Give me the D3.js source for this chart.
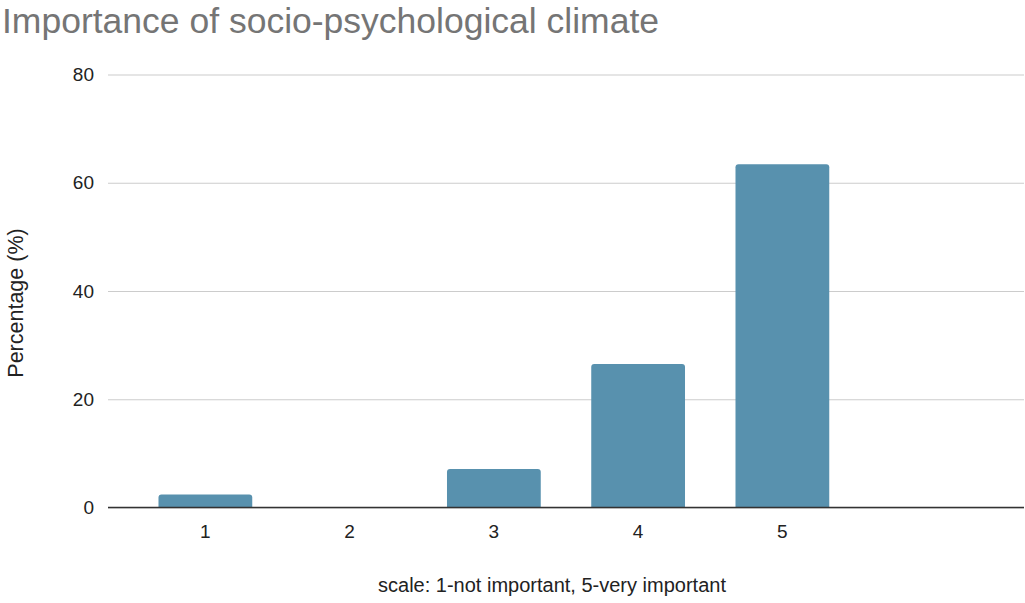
<!DOCTYPE html>
<html>
<head>
<meta charset="utf-8">
<script src="https://cdn.jsdelivr.net/npm/d3@7"></script>
<style>
body { margin:0; background:#fff; }
text { font-family: 'Liberation Sans', Arial, sans-serif; }
</style>
</head>
<body>
<svg id="chart" width="1025" height="603"></svg>
<script>
// data
var categories = ['1', '2', '3', '4', '5', ''];
var values = [2.4, 0, 7.1, 26.5, 63.4, null];
var yTicks = [0, 20, 40, 60, 80];

var title = 'Importance of socio-psychological climate';
var xTitle = 'scale: 1-not important, 5-very important';
var yTitle = 'Percentage (%)';

var W = 1025, H = 603;
var mLeft = 108, mRight = 1024, mTop = 74.5, mBottom = 507.5;

var svg = d3.select('#chart');
svg.append('rect').attr('width', W).attr('height', H).attr('fill', '#fff');

var xScale = d3.scaleBand().domain(categories).range([mLeft, mRight]).padding(0.35);
var yScale = d3.scaleLinear().domain([0, 80]).range([mBottom, mTop]);

//Title
svg.append('text').text(title)
	.attr('x', 2).attr('y', 32.5)
	.attr('fill', '#757575')
	.style('font-size', '35.5px');

//Gridlines
var grid = svg.append('g').attr('transform', 'translate(' + mLeft + ',0)')
	.call(d3.axisLeft(yScale).tickValues(yTicks).tickSize(-(mRight - mLeft)).tickFormat(''));
grid.select('.domain').remove();
grid.selectAll('line').attr('stroke', '#cccccc').attr('stroke-width', 1.2);

//Y tick labels
var yl = svg.append('g').attr('transform', 'translate(' + mLeft + ',0)')
	.call(d3.axisLeft(yScale).tickValues(yTicks).tickSize(0).tickPadding(14));
yl.select('.domain').remove();
yl.selectAll('text').attr('fill', '#222').style('font-size', '19px').attr('font-family', null);

//Bars, rounded top corners
function barPath(d, i) {
	var x0 = xScale(categories[i]), w = xScale.bandwidth();
	var y0 = yScale(0), y1 = yScale(d), r = Math.min(3, (y0 - y1) / 2);
	return 'M' + x0 + ',' + y0 + 'V' + (y1 + r) + 'Q' + x0 + ',' + y1 + ' ' + (x0 + r) + ',' + y1 +
		'H' + (x0 + w - r) + 'Q' + (x0 + w) + ',' + y1 + ' ' + (x0 + w) + ',' + (y1 + r) + 'V' + y0 + 'Z';
}
svg.append('g').selectAll('path').data(values).enter()
	.filter(function(d){ return d > 0; })
	.append('path')
	.attr('d', function(d){ var i = values.indexOf(d); return barPath(d, i); })
	.attr('fill', '#5891ae');

//X axis
var xa = svg.append('g').attr('transform', 'translate(0,' + mBottom + ')')
	.call(d3.axisBottom(xScale).tickSize(0).tickPadding(17));
xa.select('.domain').attr('stroke', '#333').attr('stroke-width', 1.5).attr('d', 'M' + mLeft + ',0H' + mRight);
xa.selectAll('text').attr('fill', '#222').style('font-size', '19px').attr('font-family', null);

//Axis titles
svg.append('text').text(xTitle)
	.attr('x', 552).attr('y', 592)
	.attr('text-anchor', 'middle').attr('fill', '#222')
	.style('font-size', '20px');

svg.append('text').text(yTitle)
	.attr('transform', 'translate(23,' + 303 + ') rotate(-90)')
	.attr('text-anchor', 'middle').attr('fill', '#222')
	.style('font-size', '21.5px');
</script>
</body>
</html>
